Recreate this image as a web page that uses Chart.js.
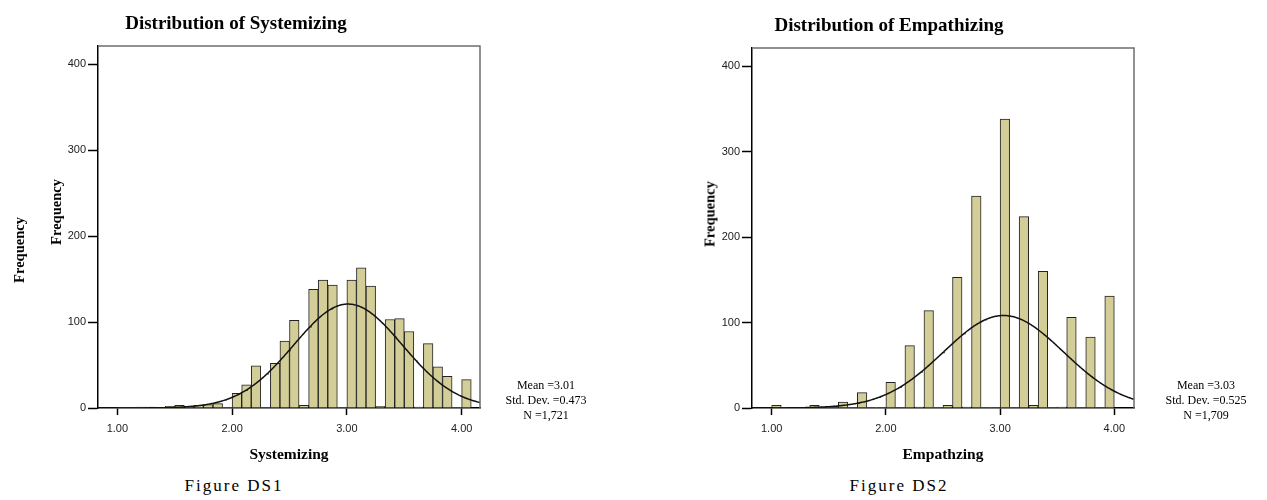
<!DOCTYPE html>
<html><head><meta charset="utf-8">
<script src="https://cdn.jsdelivr.net/npm/chart.js@4.4.1/dist/chart.umd.min.js"></script>
<style>
html,body{margin:0;padding:0;background:#fff;width:1267px;height:500px;overflow:hidden;position:relative;}
.t{position:absolute;white-space:nowrap;font-family:"Liberation Serif","Times New Roman",serif;color:#000;}
.title{font-weight:bold;font-size:19px;line-height:19px;transform:translateX(-50%);}
.axt{font-weight:bold;font-size:15.5px;line-height:16px;transform:translateX(-50%);}
.ylab{font-weight:bold;font-size:14.5px;line-height:15px;transform:translate(-50%,-50%) rotate(-90deg);}
.stats{font-size:12px;line-height:15px;text-align:center;transform:translateX(-50%);}
.cap{font-size:17px;line-height:17px;letter-spacing:2px;transform:translateX(-50%);}
canvas{position:absolute;top:0;}
</style></head>
<body>
<canvas id="c1" width="520" height="460" style="left:0px"></canvas>
<canvas id="c2" width="520" height="460" style="left:654px"></canvas>

<div class="t title" style="left:236px;top:13px">Distribution of Systemizing</div>
<div class="t title" style="left:889px;top:15px">Distribution of Empathizing</div>
<div class="t ylab" style="left:19px;top:250px">Frequency</div>
<div class="t ylab" style="left:56px;top:212px">Frequency</div>
<div class="t ylab" style="left:710px;top:214px">Frequency</div>
<div class="t axt" style="left:289px;top:446px">Systemizing</div>
<div class="t axt" style="left:943px;top:446px">Empathzing</div>
<div class="t stats" id="s1" style="left:546px;top:378px"></div>
<div class="t stats" id="s2" style="left:1206px;top:378px"></div>
<div class="t cap" style="left:234px;top:477px">Figure DS1</div>
<div class="t cap" style="left:899px;top:477px">Figure DS2</div>

<script>
// ---- data ----
const binStart = 1.0;
const binWidth = 1 / 12;
// Systemizing frequencies per bin (bin k covers binStart + k*binWidth .. +binWidth)
const sysFreq = [0,0,1,1,0,2,3,2,3,4,5,0,17,27,49,0,52,78,102,3,138,149,143,0,149,163,142,2,103,104,89,1,75,48,37,0,33];
// Empathizing frequencies per bin
const empFreq = [3,0,0,0,3,0,0,7,0,18,0,0,30,0,73,1,114,0,3,153,1,248,0,0,338,0,224,3,160,0,1,106,0,83,0,131];
const yTickValues = [0,100,200,300,400];
const xTickValues = [1,2,3,4];
const xTickLabels = ['1.00','2.00','3.00','4.00'];
const statLabels = ['Mean =','Std. Dev. =','N ='];
const sysStatText = ['3.01','0.473','1,721'];
const empStatText = ['3.03','0.525','1,709'];
const sysMean = 3.01, sysSd = 0.473, sysN = 1721;
const empMean = 3.03, empSd = 0.525, empN = 1709;

document.getElementById('s1').innerHTML = statLabels.map((l,i)=>l+sysStatText[i]).join('<br>');
document.getElementById('s2').innerHTML = statLabels.map((l,i)=>l+empStatText[i]).join('<br>');

const framePlugin = {
  id:'frame',
  afterDatasetsDraw(chart){
    const a = chart.chartArea, c = chart.ctx;
    c.save();
    c.strokeStyle = '#6e6e6e';
    c.lineWidth = 1.5;
    c.beginPath();
    c.moveTo(a.left, a.top);
    c.lineTo(a.right, a.top);
    c.lineTo(a.right, a.bottom);
    c.stroke();
    c.restore();
  }
};

function makeChart(id, freq, mean, sd, n, xMin, xMax, yMax, padTop) {
  const bars = freq.map((f,k)=>({x: binStart + (k + 0.5) * binWidth, y: f}));
  // fitted normal curve from the displayed Mean / Std. Dev. / N
  const curve = [];
  const peak = n * binWidth / (sd * Math.sqrt(2 * Math.PI));
  for (let i = 0; i <= 400; i++) {
    const x = xMin + (xMax - xMin) * i / 400;
    const z = (x - mean) / sd;
    curve.push({x: x, y: peak * Math.exp(-0.5 * z * z)});
  }
  const tickFont = {family:'"Liberation Sans", Arial, sans-serif', size:11};
  return new Chart(document.getElementById(id), {
    type:'bar',
    data:{datasets:[
      {type:'line', data:curve, borderColor:'#111', borderWidth:1.5, pointRadius:0, fill:false, tension:0},
      {type:'bar', data:bars, backgroundColor:'#d3ce97', borderColor:'#222',
       borderWidth:(c)=> (c.raw && c.raw.y > 0 ? 1 : 0), borderSkipped:'start',
       barPercentage:1, categoryPercentage:1}
    ]},
    options:{
      responsive:false, animation:false, devicePixelRatio:1,
      layout:{padding:{left:0, right:40, top:padTop, bottom:0}},
      plugins:{legend:{display:false}, tooltip:{enabled:false}, title:{display:false}},
      scales:{
        x:{type:'linear', min:xMin, max:xMax, offset:false,
           grid:{offset:false, drawOnChartArea:false, drawTicks:true, tickLength:7, tickColor:'#000', tickWidth:1.5},
           border:{display:true, color:'#000', width:1.5},
           ticks:{font:tickFont, color:'#222', padding:7, maxRotation:0, autoSkip:false,
                  callback:(v,i)=>xTickLabels[i]},
           afterBuildTicks:(s)=>{ s.ticks = xTickValues.map(v=>({value:v})); },
           afterFit:(s)=>{ s.height = 52; }
        },
        y:{type:'linear', min:0, max:yMax,
           grid:{drawOnChartArea:false, drawTicks:true, tickLength:10, tickColor:'#000', tickWidth:1.5},
           border:{display:true, color:'#000', width:1.5},
           ticks:{font:tickFont, color:'#222', padding:2},
           afterBuildTicks:(s)=>{ s.ticks = yTickValues.map(v=>({value:v})); },
           afterFit:(s)=>{ s.width = 98; }
        }
      }
    },
    plugins:[framePlugin]
  });
}

makeChart('c1', sysFreq, sysMean, sysSd, sysN, 0.8314, 4.1598, 421.3, 46);
makeChart('c2', empFreq, empMean, empSd, empN, 0.8275, 4.1725, 421.3, 48);
</script>
</body></html>
